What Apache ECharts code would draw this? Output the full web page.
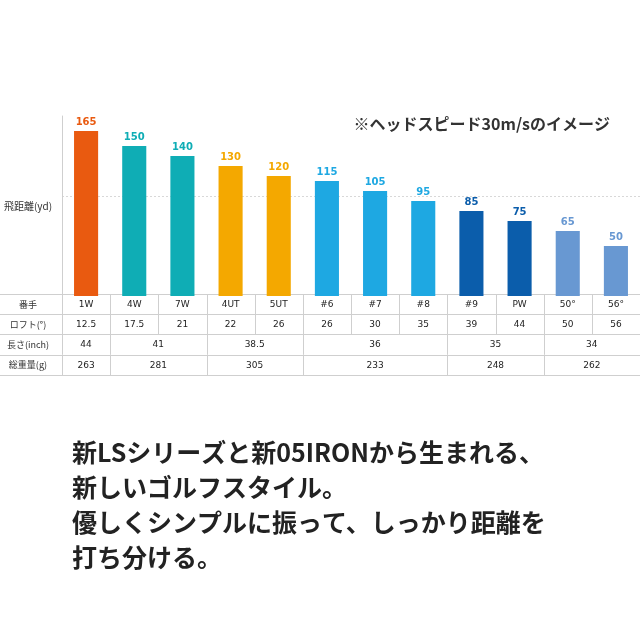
<!DOCTYPE html>
<html>
<head>
<meta charset="utf-8">
<script src="https://cdn.jsdelivr.net/npm/echarts@6/dist/echarts.min.js"></script>
<style>
  html, body { margin: 0; padding: 0; background: #ffffff; }
  #chart { width: 640px; height: 640px; }
</style>
</head>
<body>
<div id="chart"></div>
<script>
// ---- data ----
const clubs = ['1W', '4W', '7W', '4UT', '5UT', '#6', '#7', '#8', '#9', 'PW', '50°', '56°'];
const distances = [165, 150, 140, 130, 120, 115, 105, 95, 85, 75, 65, 50];
const lofts = ['12.5', '17.5', '21', '22', '26', '26', '30', '35', '39', '44', '50', '56'];
// merged cells: [firstClubIndex, lastClubIndex, text]
const lengthSpans = [[0, 0, '44'], [1, 2, '41'], [3, 4, '38.5'], [5, 7, '36'], [8, 9, '35'], [10, 11, '34']];
const weightSpans = [[0, 0, '263'], [1, 2, '281'], [3, 4, '305'], [5, 7, '233'], [8, 9, '248'], [10, 11, '262']];
const rowLabels = ['番手', 'ロフト(°)', '長さ(inch)', '総重量(g)'];
const yAxisName = '飛距離(yd)';
const noteText = '※ヘッドスピード30m/sのイメージ';
const bodyLines = [
  '新LSシリーズと新05IRONから生まれる、',
  '新しいゴルフスタイル。',
  '優しくシンプルに振って、しっかり距離を',
  '打ち分ける。'
];
const barColors = ['#e95a10', '#0fadb5', '#0fadb5', '#f4a800', '#f4a800', '#1ea8e2', '#1ea8e2', '#1ea8e2',
                   '#0b5dab', '#0b5dab', '#6898d2', '#6898d2'];

// ---- table cells built from the arrays ----
const cells = [];
clubs.forEach((c, i) => cells.push([i, i, 0, c]));
lofts.forEach((l, i) => cells.push([i, i, 1, l]));
lengthSpans.forEach(s => cells.push([s[0], s[1], 2, s[2]]));
weightSpans.forEach(s => cells.push([s[0], s[1], 3, s[2]]));

const lineColor = '#cfcfcf';
const chart = echarts.init(document.getElementById('chart'), null, { renderer: 'canvas' });

chart.setOption({
  backgroundColor: '#ffffff',
  animation: false,
  grid: [
    { left: 62, top: 116, width: 582, height: 180 },
    { left: 62, top: 294, width: 582, height: 81 }
  ],
  xAxis: [
    { gridIndex: 0, type: 'category', data: clubs, show: false },
    { gridIndex: 1, type: 'category', data: clubs, show: false }
  ],
  yAxis: [
    {
      gridIndex: 0, type: 'value', min: 0, max: 180, interval: 100,
      axisLine: { show: true, lineStyle: { color: lineColor, width: 1 } },
      axisTick: { show: false },
      axisLabel: { show: false },
      splitLine: { show: true, showMinLine: false, showMaxLine: false,
                   lineStyle: { color: '#d8d8d8', type: [2, 2], width: 1 } },
      name: yAxisName,
      nameLocation: 'middle',
      nameRotate: 0,
      nameGap: 34,
      nameTextStyle: { align: 'center', verticalAlign: 'middle', color: '#333',
                       fontSize: 10, fontFamily: 'Noto Sans CJK JP' }
    },
    {
      gridIndex: 1, type: 'category', data: rowLabels, inverse: true,
      axisLine: { show: false },
      axisTick: { show: true, length: 62, interval: 0, lineStyle: { color: lineColor } },
      axisLabel: { show: true, interval: 0, margin: 34, align: 'center', color: '#333',
                   fontSize: 9, fontFamily: 'Noto Sans CJK JP' },
      splitLine: { show: true, interval: 0, lineStyle: { color: lineColor, width: 1 } }
    }
  ],
  series: [
    {
      type: 'bar',
      xAxisIndex: 0, yAxisIndex: 0,
      barWidth: '50%',
      data: distances.map((v, i) => ({
        value: v,
        itemStyle: { color: barColors[i] },
        label: { color: barColors[i] }
      })),
      label: {
        show: true, position: 'top', distance: 4,
        fontFamily: 'DejaVu Sans', fontWeight: 'bold', fontSize: 10
      }
    },
    {
      type: 'custom',
      xAxisIndex: 1, yAxisIndex: 1,
      clip: false,
      data: cells.map(c => [c[0], c[1], c[2]]),
      encode: { x: [0, 1], y: 2 },
      renderItem: function (params, api) {
        const cell = cells[params.dataIndex];
        const a = api.coord([cell[0], cell[2]]);
        const b = api.coord([cell[1], cell[2]]);
        const size = api.size([1, 1]);
        const x0 = a[0] - size[0] / 2;
        const x1 = b[0] + size[0] / 2;
        const y0 = a[1] - size[1] / 2;
        const y1 = a[1] + size[1] / 2;
        const lx = Math.round(x0 + 0.01) + 0.5;
        return {
          type: 'group',
          children: [
            { type: 'line', shape: { x1: lx, y1: y0, x2: lx, y2: y1 },
              style: { stroke: lineColor, lineWidth: 1 } },
            {
              type: 'text',
              style: {
                text: cell[3], x: (x0 + x1) / 2, y: a[1] + 0.5,
                align: 'center', verticalAlign: 'middle',
                fill: '#222', font: '9px "DejaVu Sans"'
              }
            }
          ]
        };
      }
    }
  ],
  graphic: [
    {
      type: 'text', right: 30, top: 116,
      style: { text: noteText, fill: '#333', font: 'bold 16px "Noto Sans CJK JP"' }
    },
    {
      type: 'text', left: 72, top: 435,
      style: { text: bodyLines.join('\n'), fill: '#222', lineHeight: 35,
               font: 'bold 25px "Noto Sans CJK JP"' }
    }
  ]
});
</script>
</body>
</html>
